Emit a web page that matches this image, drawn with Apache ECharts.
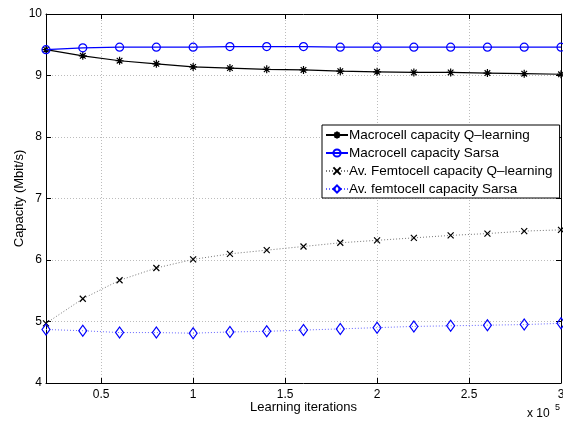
<!DOCTYPE html>
<html>
<head>
<meta charset="utf-8">
<script src="https://cdn.jsdelivr.net/npm/echarts@6/dist/echarts.min.js"></script>
<style>
  html, body { margin: 0; padding: 0; background: #fff; }
  #chart { width: 563px; height: 422px; }
</style>
</head>
<body>
<div id="chart"></div>
<script>
// Learning iterations at which capacity was sampled
const iterations = [20000, 40000, 60000, 80000, 100000, 120000, 140000, 160000,
  180000, 200000, 220000, 240000, 260000, 280000, 300000];

// Capacity in Mbit/s
const macroQ = [9.42, 9.32, 9.24, 9.19, 9.14, 9.12, 9.10, 9.09, 9.07, 9.06, 9.05, 9.05, 9.04, 9.03, 9.02];
const macroSarsa = [9.42, 9.45, 9.46, 9.46, 9.46, 9.47, 9.47, 9.47, 9.46, 9.46, 9.46, 9.46, 9.46, 9.46, 9.46];
const femtoQ = [4.97, 5.37, 5.67, 5.87, 6.01, 6.10, 6.16, 6.22, 6.28, 6.32, 6.36, 6.40, 6.43, 6.47, 6.49];
const femtoSarsa = [4.87, 4.85, 4.82, 4.82, 4.81, 4.83, 4.84, 4.86, 4.88, 4.90, 4.92, 4.93, 4.94, 4.95, 4.97];

const seriesNames = [
  'Macrocell capacity Q\u2013learning',
  'Macrocell capacity Sarsa',
  'Av. Femtocell capacity Q\u2013learning',
  'Av. femtocell capacity Sarsa'
];

const xTicks = [50000, 100000, 150000, 200000, 250000, 300000];

const FONT = 'Liberation Sans, Arial, Helvetica, sans-serif';

function pairs(ys) {
  return iterations.map((x, i) => [x, ys[i]]);
}

const asterisk = 'path://M5,0L5,10M0,5L10,5M1.5,1.5L8.5,8.5M8.5,1.5L1.5,8.5';
const cross = 'path://M0,0L10,10M10,0L0,10';

const chart = echarts.init(document.getElementById('chart'), null, { renderer: 'canvas' });

const gridLine = { show: true, lineStyle: { color: '#bcbcbc', width: 1, type: [1, 2] } };

chart.setOption({
  animation: false,
  backgroundColor: '#fff',
  textStyle: { fontFamily: FONT },
  grid: { left: 46, right: 2, top: 14, bottom: 39, containLabel: false, outerBoundsMode: 'none' },
  legend: {
    orient: 'vertical',
    left: 322,
    top: 125,
    padding: [3, 7, 2, 3],
    itemGap: 4,
    itemWidth: 22,
    itemHeight: 9,
    backgroundColor: '#fff',
    borderColor: '#000',
    borderWidth: 1,
    borderRadius: 0,
    textStyle: { fontFamily: FONT, fontSize: 13.5, color: '#000', padding: [0, 0, 0, -4] },
    data: seriesNames
  },
  xAxis: [{
    type: 'value',
    min: 20000,
    max: 300000,
    name: 'Learning iterations',
    nameLocation: 'middle',
    nameGap: 18,
    nameMoveOverlap: false,
    nameTextStyle: { fontFamily: FONT, fontSize: 13, color: '#000' },
    axisLine: { show: true, lineStyle: { color: '#000', width: 1 } },
    axisTick: { show: true, inside: true, length: 5, customValues: xTicks, lineStyle: { color: '#000' } },
    axisLabel: { customValues: xTicks, color: '#000', fontSize: 12, fontFamily: FONT, margin: 6,
      formatter: v => String(v / 100000) },
    splitLine: gridLine
  }, {
    type: 'value',
    position: 'top',
    min: 20000,
    max: 300000,
    axisLine: { show: true, lineStyle: { color: '#000', width: 1 } },
    axisTick: { show: true, inside: true, length: 5, customValues: xTicks, lineStyle: { color: '#000' } },
    axisLabel: { show: false, customValues: xTicks },
    splitLine: { show: false }
  }],
  yAxis: [{
    type: 'value',
    min: 4,
    max: 10,
    interval: 1,
    name: 'Capacity (Mbit/s)',
    nameLocation: 'middle',
    nameGap: 20,
    nameMoveOverlap: false,
    nameTextStyle: { fontFamily: FONT, fontSize: 13, color: '#000' },
    axisLine: { show: true, lineStyle: { color: '#000', width: 1 } },
    axisTick: { show: true, inside: true, length: 5, lineStyle: { color: '#000' } },
    axisLabel: { color: '#000', fontSize: 12, fontFamily: FONT, margin: 4 },
    splitLine: gridLine
  }, {
    type: 'value',
    position: 'right',
    min: 4,
    max: 10,
    interval: 1,
    axisLine: { show: true, lineStyle: { color: '#000', width: 1 } },
    axisTick: { show: true, inside: true, length: 5, lineStyle: { color: '#000' } },
    axisLabel: { show: false },
    splitLine: { show: false }
  }],
  graphic: [
    { type: 'text', left: 527, top: 408, style: { text: 'x 10', font: '12px ' + FONT, fill: '#000' } },
    { type: 'text', left: 555, top: 403, style: { text: '5', font: '9px ' + FONT, fill: '#000' } }
  ],
  series: [{
    name: seriesNames[0],
    type: 'line',
    data: pairs(macroQ),
    color: '#000',
    symbol: asterisk,
    symbolSize: 8,
    showAllSymbol: true,
    lineStyle: { color: '#000', width: 1.2 },
    itemStyle: { color: '#000', borderColor: '#000', borderWidth: 1.2 },
    z: 3
  }, {
    name: seriesNames[1],
    type: 'line',
    data: pairs(macroSarsa),
    color: '#0000ff',
    symbol: 'circle',
    symbolSize: 8,
    showAllSymbol: true,
    lineStyle: { color: '#0000ff', width: 1.3 },
    itemStyle: { color: 'rgba(255,255,255,0)', borderColor: '#0000ff', borderWidth: 1.2 },
    z: 4
  }, {
    name: seriesNames[2],
    type: 'line',
    data: pairs(femtoQ),
    color: '#000',
    symbol: cross,
    symbolSize: 6,
    showAllSymbol: true,
    lineStyle: { color: '#777', width: 1, type: [1, 2] },
    itemStyle: { color: '#000', borderColor: '#000', borderWidth: 1.2 },
    z: 3
  }, {
    name: seriesNames[3],
    type: 'line',
    data: pairs(femtoSarsa),
    color: '#0000ff',
    symbol: 'diamond',
    symbolSize: [8, 11],
    showAllSymbol: true,
    lineStyle: { color: '#6666ff', width: 1, type: [1, 2] },
    itemStyle: { color: 'rgba(255,255,255,0)', borderColor: '#0000ff', borderWidth: 1.2 },
    z: 3
  }]
});
</script>
</body>
</html>
